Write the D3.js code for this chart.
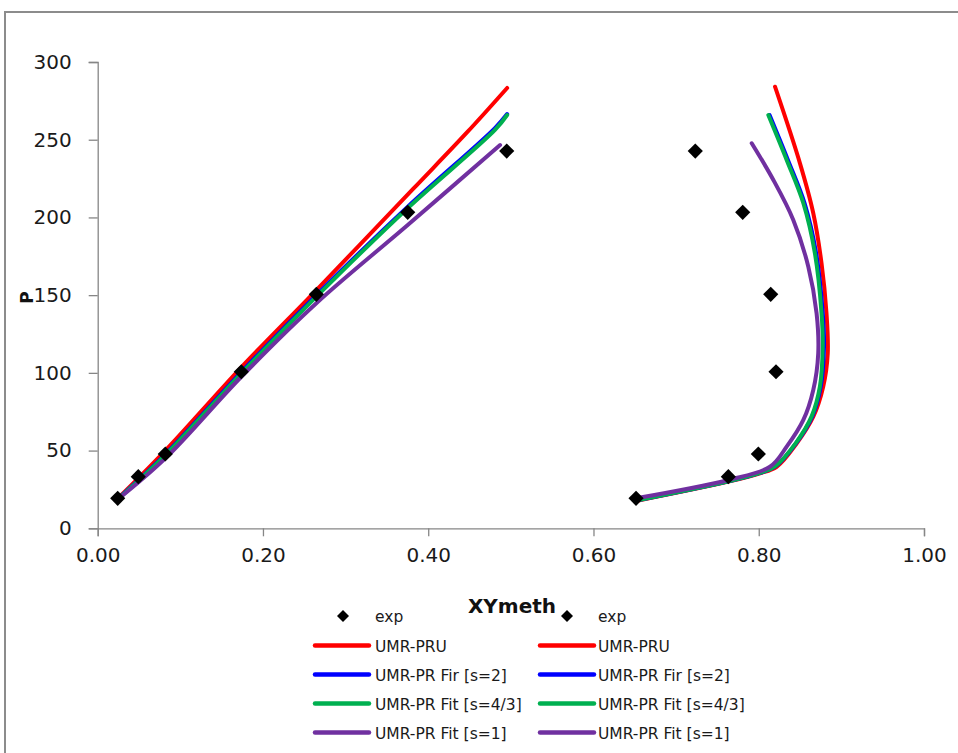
<!DOCTYPE html>
<html>
<head>
<meta charset="utf-8">
<script src="https://cdn.jsdelivr.net/npm/d3@7"></script>
<style>
  html, body { margin: 0; padding: 0; background: #fff; }
  svg { display: block; font-family: "DejaVu Sans", sans-serif; }
</style>
</head>
<body>
<svg id="chart" width="958" height="753"></svg>
<script>
// Axis ticks
const xTicks = [0, 0.2, 0.4, 0.6, 0.8, 1.0];
const yTicks = [0, 50, 100, 150, 200, 250, 300];

// Experimental points: pressure with liquid (x) and vapour (y) methane fraction
const pExp   = [19.3, 33.2, 47.8, 100.7, 150.5, 203.3, 242.7];
const xLiqExp = [0.0242, 0.0491, 0.0818, 0.1738, 0.2646, 0.3752, 0.4950];
const yVapExp = [0.6515, 0.7632, 0.7995, 0.8209, 0.8145, 0.7806, 0.7232];

// Model curves: [methane fraction, P]
const pruBubble = [[0.024,19],[0.0818,50],[0.1738,103.6],[0.2609,151.2],[0.382,218.5],[0.4466,254.5],[0.4955,283.3]];
const pruDew    = [[0.6515,17.6],[0.7632,30],[0.8015,35.4],[0.8217,39.6],[0.846,54.7],[0.866,71.8],[0.878,91.1],[0.8835,112.6],[0.882,138.3],[0.876,170.5],[0.866,202.7],[0.8499,234.8],[0.8197,284.1]];

const fit2Bubble = [[0.024,18.8],[0.0818,47.6],[0.1738,100.5],[0.2646,150],[0.375,206.8],[0.4808,257.5],[0.4955,266.5]];
const fit2Dew    = [[0.6515,17.8],[0.7632,30.2],[0.8015,35.6],[0.8205,40],[0.8455,55],[0.8648,72],[0.875,91.1],[0.879,116.8],[0.8775,138.3],[0.8695,176.9],[0.8555,209.1],[0.8353,237],[0.8131,265.9]];

const fit43Bubble = [[0.024,18.5],[0.0818,47],[0.1738,99.7],[0.2646,149],[0.375,205.9],[0.4808,256.3],[0.4955,265.9]];
const fit43Dew    = [[0.6515,17.8],[0.7632,30.2],[0.8015,35.6],[0.82,40],[0.845,55],[0.864,72],[0.874,91.1],[0.8774,116.8],[0.876,138.3],[0.868,176.9],[0.854,209.1],[0.8338,237],[0.8116,265.9]];

const fit1Bubble = [[0.024,18.5],[0.0818,45],[0.1738,97.5],[0.2646,144.8],[0.3752,195.1],[0.487,246.6]];
const fit1Dew    = [[0.6515,19.3],[0.7632,31.1],[0.8136,39.6],[0.8338,52.5],[0.854,69.7],[0.866,89],[0.872,112.6],[0.870,138.3],[0.86,168.3],[0.8418,198.4],[0.8177,224.1],[0.7915,247.7]];

const seriesNames  = ["UMR-PRU", "UMR-PR Fir [s=2]", "UMR-PR Fit [s=4/3]", "UMR-PR Fit [s=1]"];
const seriesColors = ["#ff0000", "#0000ff", "#00b050", "#7030a0"];
const seriesCurves = [[pruBubble, pruDew], [fit2Bubble, fit2Dew], [fit43Bubble, fit43Dew], [fit1Bubble, fit1Dew]];

const svg = d3.select("#chart");

// outer frame
svg.append("rect")
  .attr("x", 5).attr("y", 12).attr("width", 1000).attr("height", 800)
  .attr("fill", "#fff").attr("stroke", "#8c8c8c").attr("stroke-width", 2);

const x = d3.scaleLinear().domain([0, 1]).range([97.7, 924]);
const y = d3.scaleLinear().domain([0, 300]).range([528.3, 62]);

// y axis
const yAxis = svg.append("g").attr("transform", `translate(${x(0)},0)`)
  .call(d3.axisLeft(y).tickValues(yTicks).tickSize(9).tickPadding(17).tickFormat(d3.format("d")));
// x axis
const xAxis = svg.append("g").attr("transform", `translate(0,${y(0)})`)
  .call(d3.axisBottom(x).tickValues(xTicks).tickSize(8).tickPadding(12).tickFormat(d3.format(".2f")));

[yAxis, xAxis].forEach(ax => {
  ax.select(".domain").attr("stroke", "#868686").attr("stroke-width", 1.3);
  ax.selectAll(".tick line").attr("stroke", "#868686").attr("stroke-width", 1.3);
  ax.selectAll(".tick text").attr("font-size", 20).attr("fill", "#1a1a1a")
    .attr("font-family", "DejaVu Sans, sans-serif");
});

// axis titles
svg.append("text")
  .attr("transform", "translate(33,297.5) rotate(-90)")
  .attr("text-anchor", "middle")
  .attr("font-size", 17).attr("font-weight", "bold").attr("fill", "#111")
  .text("P");
svg.append("text")
  .attr("x", 512).attr("y", 612.5)
  .attr("text-anchor", "middle")
  .attr("font-size", 20).attr("font-weight", "bold").attr("fill", "#111")
  .text("XYmeth");

// model curves
const line = d3.line().x(d => x(d[0])).y(d => y(d[1])).curve(d3.curveCatmullRom.alpha(0.5));
const curveG = svg.append("g");
seriesCurves.forEach((pair, i) => {
  pair.forEach(pts => {
    curveG.append("path")
      .attr("d", line(pts))
      .attr("fill", "none")
      .attr("stroke", seriesColors[i])
      .attr("stroke-width", 4)
      .attr("stroke-linecap", "round")
      .attr("stroke-linejoin", "round");
  });
});

// experimental diamonds
const diamond = d3.symbol().type(d3.symbolSquare).size(115);
const expPts = pExp.map((p, i) => [xLiqExp[i], p]).concat(pExp.map((p, i) => [yVapExp[i], p]));
svg.append("g").selectAll("path").data(expPts).join("path")
  .attr("d", diamond)
  .attr("transform", d => `translate(${x(d[0])},${y(d[1])}) rotate(45)`)
  .attr("fill", "#000");

// legend, two identical columns (liquid and vapour branches)
const legendRows = [616, 645.5, 674.5, 703.5, 732.5];
const legendCols = [{ line0: 315, line1: 369, marker: 343, text: 375 },
                    { line0: 540, line1: 594, marker: 567, text: 598 }];
const legend = svg.append("g").attr("font-size", 15.5).attr("fill", "#1a1a1a");
legendCols.forEach(c => {
  legend.append("path")
    .attr("d", d3.symbol().type(d3.symbolSquare).size(72))
    .attr("transform", `translate(${c.marker},${legendRows[0]}) rotate(45)`)
    .attr("fill", "#000");
  legend.append("text").attr("x", c.text).attr("y", legendRows[0] + 5.5).text("exp");
  seriesNames.forEach((name, i) => {
    const ry = legendRows[i + 1];
    legend.append("line")
      .attr("x1", c.line0).attr("x2", c.line1).attr("y1", ry).attr("y2", ry)
      .attr("stroke", seriesColors[i]).attr("stroke-width", 4.5).attr("stroke-linecap", "round");
    legend.append("text").attr("x", c.text).attr("y", ry + 6).text(name);
  });
});
</script>
</body>
</html>
